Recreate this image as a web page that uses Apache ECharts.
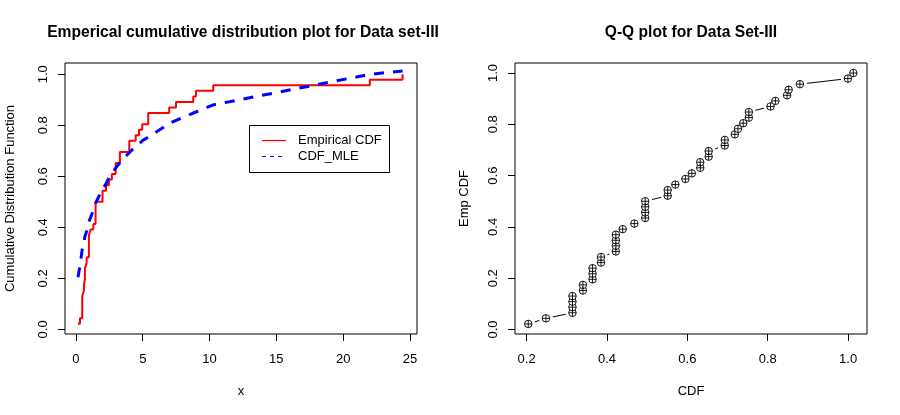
<!DOCTYPE html>
<html>
<head>
<meta charset="utf-8">
<script src="https://cdn.jsdelivr.net/npm/echarts@6/dist/echarts.min.js"></script>
<style>
html,body{margin:0;padding:0;background:#fff;}
#main{width:900px;height:415px;}
</style>
</head>
<body>
<div id="main"></div>
<script>
// Sorted sample values (Data set-III)
const sampleX = [0.15,0.30,0.47,0.47,0.47,0.47,0.60,0.60,0.67,0.67,0.67,0.80,0.80,0.97,0.97,0.97,0.97,1.10,1.30,1.47,1.47,1.47,1.47,1.99,1.99,2.25,2.47,2.69,2.97,2.97,3.29,3.29,3.99,3.99,4.47,4.72,4.96,5.41,5.41,6.98,7.49,8.78,8.98,10.28,22.0,24.45];
// Empirical CDF (i/n)
const empCDF = [0.0217,0.0435,0.0652,0.0870,0.1087,0.1304,0.1522,0.1739,0.1957,0.2174,0.2391,0.2609,0.2826,0.3043,0.3261,0.3478,0.3696,0.3913,0.4130,0.4348,0.4565,0.4783,0.5000,0.5217,0.5435,0.5652,0.5870,0.6087,0.6304,0.6522,0.6739,0.6957,0.7174,0.7391,0.7609,0.7826,0.8043,0.8261,0.8478,0.8696,0.8913,0.9130,0.9348,0.9565,0.9783,1.0000];
// Fitted CDF (MLE) at each sample value
const mleCDF = [0.204,0.248,0.314,0.314,0.314,0.314,0.340,0.340,0.364,0.364,0.364,0.385,0.385,0.422,0.422,0.422,0.422,0.439,0.468,0.495,0.495,0.495,0.495,0.551,0.551,0.570,0.595,0.611,0.632,0.632,0.653,0.653,0.693,0.693,0.718,0.726,0.739,0.753,0.753,0.807,0.819,0.848,0.852,0.880,0.9995,1.013];
// Tick values
const xTicksLeft = [0,5,10,15,20,25];
const yTicks = [0,0.2,0.4,0.6,0.8,1.0];
const xTicksRight = [0.2,0.4,0.6,0.8,1.0];

const FONT = '"Liberation Sans", Arial, Helvetica, sans-serif';
const FS = 13;

const ecdfData = sampleX.map((x, i) => [x, empCDF[i]]);
const mleData = sampleX.map((x, i) => [x, mleCDF[i]]);
const qqData = mleCDF.map((c, i) => [c, empCDF[i]]);

function axisCommon(ticks, fmt, margin, rotate) {
  return {
    axisLine: {show: false, onZero: false},
    splitLine: {show: false},
    axisTick: {show: true, inside: false, length: 7, customValues: ticks, lineStyle: {color: '#000', width: 1}},
    axisLabel: {show: true, customValues: ticks, formatter: fmt, color: '#000', fontSize: FS, fontFamily: FONT, margin: margin, rotate: rotate},
  };
}
const fmt1 = v => Number(v).toFixed(1);
const fmt0 = v => String(Math.round(v));
const nameStyle = {fontSize: FS, color: '#000', fontFamily: FONT};

const chart = echarts.init(document.getElementById('main'), null, {renderer: 'canvas'});
const option = {
  animation: false,
  backgroundColor: '#fff',
  title: [
    {text: 'Emperical cumulative distribution plot for Data set-III', left: 243, top: 25, textAlign: 'center', padding: 0,
     textStyle: {fontSize: 15.6, fontWeight: 'bold', color: '#000', fontFamily: FONT}},
    {text: 'Q-Q plot for Data Set-III', left: 691, top: 25, textAlign: 'center', padding: 0,
     textStyle: {fontSize: 15.6, fontWeight: 'bold', color: '#000', fontFamily: FONT}}
  ],
  grid: [
    {left: 65, top: 63, width: 352, height: 271, show: true, borderColor: '#000', borderWidth: 1, backgroundColor: 'transparent', containLabel: false},
    {left: 515, top: 63, width: 352, height: 271, show: true, borderColor: '#000', borderWidth: 1, backgroundColor: 'transparent', containLabel: false}
  ],
  xAxis: [
    Object.assign({type: 'value', gridIndex: 0, min: -0.82, max: 25.53, name: 'x', nameLocation: 'middle', nameGap: 51,
      nameTextStyle: Object.assign({verticalAlign: 'top'}, nameStyle)}, axisCommon(xTicksLeft, fmt0, 19, 0)),
    Object.assign({type: 'value', gridIndex: 1, min: 0.171, max: 1.047, name: 'CDF', nameLocation: 'middle', nameGap: 51,
      nameTextStyle: Object.assign({verticalAlign: 'top'}, nameStyle)}, axisCommon(xTicksRight, fmt1, 19, 0))
  ],
  yAxis: [
    Object.assign({type: 'value', gridIndex: 0, min: -0.018, max: 1.044, name: 'Cumulative Distribution Function', nameLocation: 'middle', nameGap: 48,
      nameTextStyle: nameStyle}, axisCommon(yTicks, fmt1, 15, 90)),
    Object.assign({type: 'value', gridIndex: 1, min: -0.0175, max: 1.039, name: 'Emp CDF', nameLocation: 'middle', nameGap: 44,
      nameTextStyle: nameStyle}, axisCommon(yTicks, fmt1, 15, 90))
  ],
  series: [
    {name: 'Empirical CDF', type: 'line', xAxisIndex: 0, yAxisIndex: 0, data: ecdfData, step: 'end', symbol: 'none',
     lineStyle: {color: '#ff0000', width: 2}, silent: true, z: 3},
    {name: 'CDF_MLE', type: 'line', xAxisIndex: 0, yAxisIndex: 0, data: mleData, symbol: 'none', smooth: false,
     lineStyle: {color: '#0000ff', width: 3, type: [10, 9], cap: 'butt'}, silent: true, z: 4},
    {name: 'qqline', type: 'line', xAxisIndex: 1, yAxisIndex: 1, data: qqData, symbol: 'none',
     lineStyle: {color: '#000', width: 1}, silent: true, z: 2},
    {name: 'qqgap', type: 'scatter', xAxisIndex: 1, yAxisIndex: 1, data: qqData, symbol: 'circle', symbolSize: 14,
     itemStyle: {color: '#fff', borderWidth: 0, opacity: 1}, silent: true, z: 3},
    {name: 'qqcircle', type: 'scatter', xAxisIndex: 1, yAxisIndex: 1, data: qqData, symbol: 'circle', symbolSize: 7.5,
     itemStyle: {color: '#fff', borderColor: '#000', borderWidth: 0.9, opacity: 1}, silent: true, z: 4},
    {name: 'qqplus', type: 'scatter', xAxisIndex: 1, yAxisIndex: 1, data: qqData, symbol: 'path://M0,5L10,5M5,0L5,10', symbolSize: 7.5,
     itemStyle: {color: 'rgba(0,0,0,0)', borderColor: '#000', borderWidth: 0.9, opacity: 1}, silent: true, z: 5}
  ],
  graphic: [
    {type: 'rect', shape: {x: 249.5, y: 125.5, width: 140, height: 47}, style: {fill: '#fff', stroke: '#000', lineWidth: 1}, z: 10},
    {type: 'line', shape: {x1: 262, y1: 140.5, x2: 286, y2: 140.5}, style: {stroke: '#ff0000', lineWidth: 1.2}, z: 11},
    {type: 'line', shape: {x1: 262, y1: 156.5, x2: 286, y2: 156.5}, style: {stroke: '#0000ff', lineWidth: 1.2, lineDash: [4, 4]}, z: 11},
    {type: 'text', x: 298, y: 140.5, style: {text: 'Empirical CDF', fill: '#000', font: FS + 'px ' + FONT, verticalAlign: 'middle'}, z: 11},
    {type: 'text', x: 298, y: 156.5, style: {text: 'CDF_MLE', fill: '#000', font: FS + 'px ' + FONT, verticalAlign: 'middle'}, z: 11}
  ]
};
chart.setOption(option);
</script>
</body>
</html>
